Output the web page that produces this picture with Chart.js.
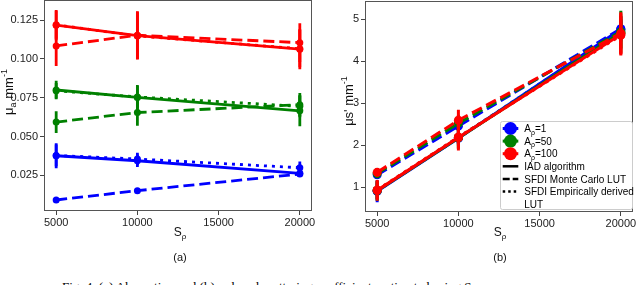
<!DOCTYPE html>
<html><head><meta charset="utf-8">
<script src="https://cdn.jsdelivr.net/npm/chart.js@4.4.1/dist/chart.umd.min.js"></script>
<style>
html,body{margin:0;padding:0;background:#fff;overflow:hidden;width:640px;height:285px;position:relative;}
#c1{position:absolute;left:0;top:0;}
#c2{position:absolute;left:320px;top:0;}
#fig{position:absolute;left:62px;top:279.7px;font-family:"Liberation Serif","Times New Roman",serif;font-size:13px;line-height:13px;white-space:nowrap;color:#000;}
</style></head><body>
<canvas id="c1" width="320" height="270"></canvas>
<canvas id="c2" width="320" height="270"></canvas>
<div id="fig">Fig. 4. (a) Absorption and (b) reduced scattering coefficients estimated using S<sub style="font-size:9px">ρ</sub></div>
<script>
// ---------- data ----------
const spValues = [5000, 10000, 20000];
const spTicks = [5000, 10000, 15000, 20000];
const muaTicks = [0.025, 0.050, 0.075, 0.100, 0.125];
const musTicks = [1, 2, 3, 4, 5];
const aLabels = ['1', '50', '100'];
const methodLabels = ['IAD algorithm', 'SFDI Monte Carlo LUT', 'SFDI Empirically derived', 'LUT'];

// (a) absorption coefficient, mm^-1
const muaA1Iad = [0.0376, 0.0344, 0.0263];
const muaA1IadErr = [0.008, 0.004, 0.002];
const muaA1Mc = [0.0091, 0.0151, 0.0258];
const muaA1McErr = [0.0008, 0.001, 0.0015];
const muaA1Emp = [0.0378, 0.0355, 0.0299];
const muaA1EmpErr = [0.007, 0.004, 0.004];
const muaA50Iad = [0.0800, 0.0752, 0.0666];
const muaA50IadErr = [0.006, 0.008, 0.010];
const muaA50Mc = [0.0593, 0.0655, 0.0705];
const muaA50McErr = [0.007, 0.0085, 0.0075];
const muaA50Emp = [0.0795, 0.0755, 0.0695];
const muaA50EmpErr = [0.005, 0.007, 0.007];
const muaA100Iad = [0.1218, 0.1151, 0.1063];
const muaA100IadErr = [0.0097, 0.0153, 0.0130];
const muaA100Mc = [0.1084, 0.1153, 0.1105];
const muaA100McErr = [0.013, 0.0155, 0.0125];
const muaA100Emp = [0.1220, 0.1148, 0.1066];
const muaA100EmpErr = [0.009, 0.015, 0.012];

// (b) reduced scattering coefficient, mm^-1
const musA1Iad = [0.90, 2.16, 4.76];
const musA1IadErr = [0.26, 0.15, 0.30];
const musA1Mc = [1.29, 2.45, 4.77];
const musA1McErr = [0.10, 0.10, 0.20];
const musA1Emp = [0.91, 2.17, 4.74];
const musA1EmpErr = [0.20, 0.15, 0.25];
const musA50Iad = [0.91, 2.17, 4.68];
const musA50IadErr = [0.24, 0.25, 0.40];
const musA50Mc = [1.32, 2.52, 4.70];
const musA50McErr = [0.11, 0.20, 0.50];
const musA50Emp = [0.92, 2.18, 4.66];
const musA50EmpErr = [0.22, 0.20, 0.35];
const musA100Iad = [0.92, 2.18, 4.63];
const musA100IadErr = [0.25, 0.31, 0.50];
const musA100Mc = [1.35, 2.59, 4.66];
const musA100McErr = [0.10, 0.25, 0.50];
const musA100Emp = [0.93, 2.19, 4.61];
const musA100EmpErr = [0.22, 0.28, 0.45];

// ---------- styles ----------
const COLORS = ['#0000ff', '#008000', '#ff0000'];
const DASHES = { solid: [], dashed: [11, 5], dotted: [3, 5] };
const FONT = '"Liberation Sans", Arial, sans-serif';

const seriesA = [
  { c: COLORS[0], d: 'solid', v: muaA1Iad, e: muaA1IadErr },
  { c: COLORS[0], d: 'dashed', v: muaA1Mc, e: muaA1McErr },
  { c: COLORS[0], d: 'dotted', v: muaA1Emp, e: muaA1EmpErr },
  { c: COLORS[1], d: 'solid', v: muaA50Iad, e: muaA50IadErr },
  { c: COLORS[1], d: 'dashed', v: muaA50Mc, e: muaA50McErr },
  { c: COLORS[1], d: 'dotted', v: muaA50Emp, e: muaA50EmpErr },
  { c: COLORS[2], d: 'solid', v: muaA100Iad, e: muaA100IadErr },
  { c: COLORS[2], d: 'dashed', v: muaA100Mc, e: muaA100McErr },
  { c: COLORS[2], d: 'dotted', v: muaA100Emp, e: muaA100EmpErr }
];
const seriesB = [
  { c: COLORS[0], d: 'solid', v: musA1Iad, e: musA1IadErr },
  { c: COLORS[0], d: 'dashed', v: musA1Mc, e: musA1McErr },
  { c: COLORS[0], d: 'dotted', v: musA1Emp, e: musA1EmpErr },
  { c: COLORS[1], d: 'solid', v: musA50Iad, e: musA50IadErr },
  { c: COLORS[1], d: 'dashed', v: musA50Mc, e: musA50McErr },
  { c: COLORS[1], d: 'dotted', v: musA50Emp, e: musA50EmpErr },
  { c: COLORS[2], d: 'solid', v: musA100Iad, e: musA100IadErr },
  { c: COLORS[2], d: 'dashed', v: musA100Mc, e: musA100McErr },
  { c: COLORS[2], d: 'dotted', v: musA100Emp, e: musA100EmpErr }
];

function buildDatasets(list, pr, lw) {
  const ds = [];
  list.forEach(s => {
    const err = [];
    spValues.forEach((x, i) => {
      err.push({ x: x, y: s.v[i] - s.e[i] }, { x: x, y: s.v[i] + s.e[i] }, { x: x, y: null });
    });
    ds.push({ data: err, borderColor: s.c, borderWidth: lw, pointRadius: 0, pointHoverRadius: 0,
      spanGaps: false, fill: false, borderCapStyle: 'butt' });
    ds.push({ data: spValues.map((x, i) => ({ x: x, y: s.v[i] })), borderColor: s.c, backgroundColor: s.c,
      borderWidth: lw, borderDash: DASHES[s.d], pointRadius: pr, pointHoverRadius: pr,
      pointBackgroundColor: s.c, pointBorderWidth: 0, fill: false, tension: 0 });
  });
  const n = ds.length;
  ds.forEach((d, i) => { d.order = n - i; });
  return ds;
}

// draw text made of parts: {t, s (size), dy}
function richWidth(ctx, parts) {
  let w = 0;
  parts.forEach(p => { ctx.font = p.s + 'px ' + FONT; w += ctx.measureText(p.t).width; });
  return w;
}
function drawRich(ctx, parts, x, y, align) {
  const w = richWidth(ctx, parts);
  let cx = align === 'center' ? x - w / 2 : x;
  ctx.textAlign = 'left';
  ctx.textBaseline = 'alphabetic';
  parts.forEach(p => {
    ctx.font = p.s + 'px ' + FONT;
    ctx.fillText(p.t, cx, y + (p.dy || 0));
    cx += ctx.measureText(p.t).width;
  });
}

function framePlugin(opts) {
  return {
    id: 'frameText',
    afterDraw(chart) {
      const ctx = chart.ctx;
      const a = chart.chartArea;
      ctx.save();
      ctx.strokeStyle = '#555';
      ctx.lineWidth = 1;
      ctx.strokeRect(Math.round(a.left) + 0.5, Math.round(a.top) + 0.5,
        Math.round(a.right - a.left) - 1, Math.round(a.bottom - a.top) - 1);
      ctx.fillStyle = '#111';
      // x title
      drawRich(ctx, [{ t: 'S', s: 12 }, { t: 'ρ', s: 8, dy: 3 }], opts.xTitleX, 235.5, 'center');
      // panel letter
      drawRich(ctx, [{ t: opts.letter, s: 11 }], opts.xTitleX, 261, 'center');
      // y title
      ctx.save();
      ctx.translate(opts.yTitleX, opts.yTitleY);
      ctx.rotate(-Math.PI / 2);
      drawRich(ctx, opts.yParts, 0, 0, 'center');
      ctx.restore();
      if (opts.legend) opts.legend(ctx);
      ctx.restore();
    }
  };
}

function legendB(ctx) {
  const bx = 180.5, by = 121.5, bw = 132, bh = 88;
  ctx.save();
  ctx.fillStyle = 'rgba(255,255,255,0.92)';
  ctx.strokeStyle = '#cccccc';
  ctx.lineWidth = 1;
  ctx.beginPath();
  if (ctx.roundRect) ctx.roundRect(bx, by, bw, bh, 2); else ctx.rect(bx, by, bw, bh);
  ctx.fill();
  ctx.stroke();
  const rows = [128.5, 141.1, 153.7, 166.3, 178.9, 191.5, 204.1];
  const lx0 = 182.7, lx1 = 198.3, mx = 190.5, tx = 204.3;
  for (let i = 0; i < 3; i++) {
    const y = rows[i];
    ctx.strokeStyle = COLORS[i];
    ctx.lineWidth = 3;
    ctx.setLineDash([]);
    ctx.beginPath(); ctx.moveTo(lx0, y); ctx.lineTo(lx1, y); ctx.stroke();
    ctx.fillStyle = COLORS[i];
    ctx.beginPath(); ctx.arc(mx, y, 6.5, 0, Math.PI * 2); ctx.fill();
    ctx.fillStyle = '#000';
    drawRich(ctx, [{ t: 'A', s: 10 }, { t: 'ρ', s: 7, dy: 2.5 }, { t: '=' + aLabels[i], s: 10 }], tx, y + 3.6, 'left');
  }
  const dashes = [[], [7, 3], [2.5, 3]];
  for (let j = 0; j < 3; j++) {
    const y = rows[3 + j];
    ctx.strokeStyle = '#000';
    ctx.lineWidth = 2.5;
    ctx.setLineDash(dashes[j]);
    ctx.beginPath(); ctx.moveTo(lx0, y); ctx.lineTo(lx1, y); ctx.stroke();
    ctx.setLineDash([]);
    ctx.fillStyle = '#000';
    drawRich(ctx, [{ t: methodLabels[j], s: 10 }], tx, y + 3.6, 'left');
  }
  drawRich(ctx, [{ t: methodLabels[3], s: 10 }], tx, rows[6] + 3.6, 'left');
  ctx.restore();
}

function makeChart(id, list, cfg) {
  const el = document.getElementById(id);
  return new Chart(el, {
    type: 'line',
    data: { datasets: buildDatasets(list, cfg.pr, cfg.lw) },
    options: {
      responsive: false, animation: false, devicePixelRatio: 1,
      layout: { autoPadding: false, padding: { left: 0, right: cfg.padRight, top: cfg.padTop, bottom: 0 } },
      plugins: { legend: { display: false }, tooltip: { enabled: false } },
      events: [],
      scales: {
        x: {
          type: 'linear', min: 4250, max: 20750,
          afterBuildTicks: s => { s.ticks = spTicks.map(v => ({ value: v })); },
          afterFit: s => { s.height = 270 - cfg.bottom; s.paddingLeft = 0; s.paddingRight = 0; },
          ticks: { callback: v => String(v), font: { family: FONT, size: 11 }, color: '#222', padding: 1, maxRotation: 0, autoSkip: false },
          grid: { display: true, drawOnChartArea: false, drawTicks: true, tickLength: 4, color: '#444', lineWidth: 1 },
          border: { display: false }
        },
        y: {
          type: 'linear', min: cfg.ymin, max: cfg.ymax,
          afterBuildTicks: s => { s.ticks = cfg.yTicks.map(v => ({ value: v })); },
          afterFit: s => { s.width = cfg.yWidth; s.paddingTop = 0; s.paddingBottom = 0; },
          ticks: { callback: cfg.yFmt, font: { family: FONT, size: 11 }, color: '#222', padding: 2, autoSkip: false },
          grid: { display: true, drawOnChartArea: false, drawTicks: true, tickLength: 4, color: '#444', lineWidth: 1 },
          border: { display: false }
        }
      }
    },
    plugins: [framePlugin(cfg.text)]
  });
}

makeChart('c1', seriesA, {
  pr: 3.5, lw: 2.8, padRight: 8, padTop: 0, bottom: 211, yWidth: 44, ymin: 0.002, ymax: 0.138,
  yTicks: muaTicks, yFmt: v => v.toFixed(3),
  text: { xTitleX: 180, letter: '(a)', yTitleX: 13, yTitleY: 92,
    yParts: [{ t: 'μ', s: 13 }, { t: 'a', s: 9, dy: 3 }, { t: ' mm', s: 13 }, { t: '-1', s: 9, dy: -6 }] }
});
makeChart('c2', seriesB, {
  pr: 4.5, lw: 3, padRight: 7, padTop: 1, bottom: 212, yWidth: 45, ymin: 0.405, ymax: 5.43,
  yTicks: musTicks, yFmt: v => String(v),
  text: { xTitleX: 180, letter: '(b)', yTitleX: 33, yTitleY: 101,
    yParts: [{ t: 'μs\' mm', s: 13 }, { t: '-1', s: 9, dy: -6 }], legend: legendB }
});
</script>
</body></html>
